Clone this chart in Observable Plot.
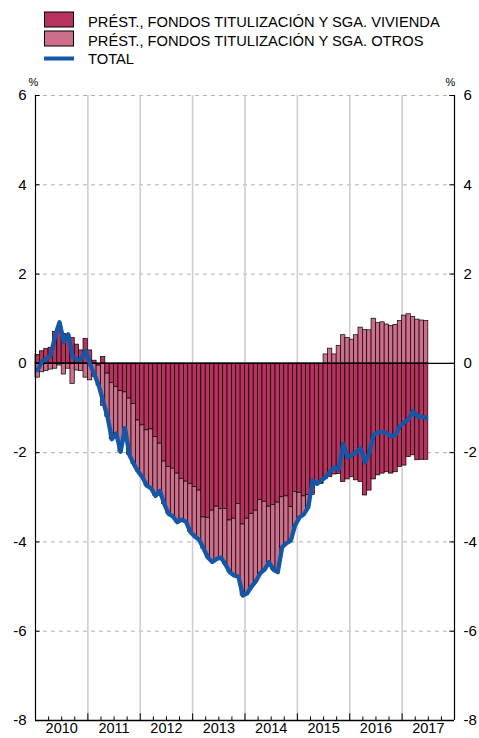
<!DOCTYPE html>
<html><head><meta charset="utf-8">
<script src="https://cdn.jsdelivr.net/npm/d3@7"></script>
<script src="https://cdn.jsdelivr.net/npm/@observablehq/plot@0.6"></script>
<style>
body{margin:0;background:#fff;font-family:"Liberation Sans",Arial,sans-serif;}
svg{display:block;}
</style></head>
<body>
<svg id="legend" width="479" height="70" style="font-family:'Liberation Sans',Arial,sans-serif;font-size:14.7px">
  <rect x="44.5" y="12" width="29" height="15" fill="#b8325e" stroke="#000"/>
  <text x="88" y="26.5">PRÉST., FONDOS TITULIZACIÓN Y SGA. VIVIENDA</text>
  <rect x="44.5" y="31" width="29" height="15" fill="#cd6e8b" stroke="#000"/>
  <text x="88" y="45.8">PRÉST., FONDOS TITULIZACIÓN Y SGA. OTROS</text>
  <line x1="44" x2="74" y1="58.5" y2="58.5" stroke="#1457a8" stroke-width="4"/>
  <text x="88" y="64.3">TOTAL</text>
</svg>
<div id="chart"></div>
<script>
const startYear = 2010;
const years = [2010, 2011, 2012, 2013, 2014, 2015, 2016, 2017];
const yTicks = [6, 4, 2, 0, -2, -4, -6, -8];
const gridY = [6, 4, 2, -2, -4, -6];

const vivienda = [0.19,0.27,0.32,0.35,0.70,0.75,0.66,0.62,0.57,0.42,0.29,0.55,
0.29,0.06,-0.05,0.14,-0.23,-0.44,-0.53,-0.62,-0.65,-0.79,-0.91,-1.28,
-1.39,-1.50,-1.48,-1.65,-1.80,-2.20,-2.32,-2.36,-2.47,-2.59,-2.65,-2.70,
-2.77,-2.85,-3.45,-3.46,-3.30,-3.21,-3.26,-3.26,-3.52,-3.48,-3.15,-3.61,
-3.48,-3.37,-3.30,-3.06,-3.10,-3.21,-3.17,-3.12,-3.00,-2.98,-3.22,-2.88,
-2.90,-2.98,-2.95,-2.90,-2.70,-2.68,-2.59,-2.55,-2.49,-2.48,-2.66,-2.60,
-2.55,-2.62,-2.66,-2.96,-2.85,-2.60,-2.51,-2.47,-2.44,-2.47,-2.44,-2.32,
-2.29,-2.10,-2.06,-2.17,-2.16,-2.16];

const otros = [-0.32,-0.20,-0.17,-0.14,-0.12,-0.05,-0.25,-0.12,-0.46,-0.16,-0.17,-0.32,
-0.38,-0.30,-0.45,-0.95,-0.97,-1.26,-1.04,-1.36,-0.80,-1.26,-1.34,-1.14,
-1.16,-1.24,-1.32,-1.32,-1.06,-0.95,-1.05,-1.07,-1.09,-0.91,-0.90,-1.08,
-1.11,-1.10,-0.70,-0.89,-1.15,-1.17,-1.09,-1.24,-1.16,-1.27,-1.63,-1.59,
-1.67,-1.63,-1.58,-1.64,-1.52,-1.24,-1.45,-1.56,-1.12,-1.05,-0.75,-0.74,
-0.55,-0.40,-0.25,-0.05,-0.03,-0.02,0.20,0.33,0.20,0.39,0.63,0.57,
0.53,0.63,0.80,0.75,0.74,1.00,0.90,0.92,0.87,0.84,0.86,0.95,
1.07,1.10,1.04,0.98,0.96,0.95];

const total = [-0.15,0.05,0.10,0.18,0.62,0.92,0.48,0.65,0.15,0.08,0.10,0.28,
-0.02,-0.25,-0.50,-0.85,-1.20,-1.70,-1.57,-1.98,-1.45,-2.05,-2.25,-2.42,
-2.55,-2.74,-2.80,-2.97,-2.86,-3.15,-3.37,-3.43,-3.56,-3.50,-3.55,-3.78,
-3.88,-3.95,-4.15,-4.35,-4.45,-4.38,-4.35,-4.50,-4.68,-4.75,-4.78,-5.20,
-5.15,-5.00,-4.88,-4.70,-4.62,-4.45,-4.62,-4.68,-4.12,-4.03,-3.97,-3.62,
-3.45,-3.38,-3.22,-2.62,-2.70,-2.62,-2.55,-2.42,-2.33,-2.38,-1.80,-2.10,
-2.06,-1.99,-1.90,-2.22,-2.00,-1.60,-1.54,-1.54,-1.56,-1.64,-1.60,-1.40,
-1.32,-1.25,-1.07,-1.19,-1.19,-1.22];

const seriesNames = ["VIVIENDA", "OTROS"];
const colors = {VIVIENDA: "#b8325e", OTROS: "#cd6e8b"};

// stacked rows (positives and negatives stacked separately, vivienda first)
const rows = [];
vivienda.forEach((v, i) => {
  const x1 = startYear + i / 12, x2 = startYear + (i + 1) / 12;
  let pos = 0, neg = 0;
  [[seriesNames[0], v], [seriesNames[1], otros[i]]].forEach(([s, val]) => {
    let y1, y2;
    if (val >= 0) { y1 = pos; y2 = pos + val; pos = y2; }
    else { y1 = neg; y2 = neg + val; neg = y2; }
    rows.push({x1, x2, y1, y2, serie: s});
  });
});
const lineData = total.map((v, i) => ({x: startYear + (i + 0.5) / 12, y: v}));
const quarters = d3.range(startYear * 4 + 1, 2018 * 4).map(q => q / 4).filter(q => q % 1 !== 0);
const yearEdges = d3.range(2011, 2018);

const chart = Plot.plot({
  width: 479, height: 668,
  marginTop: 25, marginBottom: 18, marginLeft: 35, marginRight: 25,
  x: {domain: [2010, 2018], axis: null},
  y: {domain: [-8, 6], axis: null},
  style: {fontFamily: "Liberation Sans, Arial, sans-serif", fontSize: "15px", color: "#000", background: "#fff"},
  marks: [
    Plot.ruleY(gridY, {stroke: "#b0b0b0", strokeDasharray: "4,4", strokeWidth: 1}),
    Plot.ruleX(yearEdges, {stroke: "#cfcfcf", strokeWidth: 1.6}),
    Plot.rect(rows, {x1: "x1", x2: "x2", y1: "y1", y2: "y2", fill: d => colors[d.serie], stroke: "#000", strokeWidth: 0.7}),
    Plot.ruleY([0], {stroke: "#000", strokeWidth: 1.2}),
    Plot.line(lineData, {x: "x", y: "y", stroke: "#1457a8", strokeWidth: 4.3, strokeLinejoin: "round"}),
    Plot.ruleX([2010, 2018], {stroke: "#000", strokeWidth: 1.2}),
    Plot.ruleY([-8], {stroke: "#000", strokeWidth: 1.6}),
    Plot.ruleX(quarters, {y1: -8, y2: -7.92, stroke: "#000", strokeWidth: 1}),
    Plot.ruleX(yearEdges, {y1: -8, y2: -7.85, stroke: "#000", strokeWidth: 1}),
    Plot.ruleY(yTicks, {x1: 2010, x2: 2010.09, stroke: "#000", strokeWidth: 1}),
    Plot.ruleY(yTicks, {x1: 2017.91, x2: 2018, stroke: "#000", strokeWidth: 1}),
    Plot.axisY(yTicks, {anchor: "left", tickSize: 0, tickPadding: 9, fontSize: 15, tickFormat: d => String(d)}),
    Plot.axisY(yTicks, {anchor: "right", tickSize: 0, tickPadding: 9, fontSize: 15, tickFormat: d => String(d)}),
    Plot.axisX(years.map(y => y + 0.5), {anchor: "bottom", tickSize: 0, tickPadding: 2.5, fontSize: 14.5, tickFormat: d => String(Math.floor(d))}),
    Plot.text([{x: 2010, y: 6}], {x: "x", y: "y", text: () => "%", dx: -2, dy: -13, fontSize: 11}),
    Plot.text([{x: 2018, y: 6}], {x: "x", y: "y", text: () => "%", dx: -4, dy: -13, fontSize: 11})
  ]
});
document.getElementById("chart").appendChild(chart);
</script>
</body></html>
